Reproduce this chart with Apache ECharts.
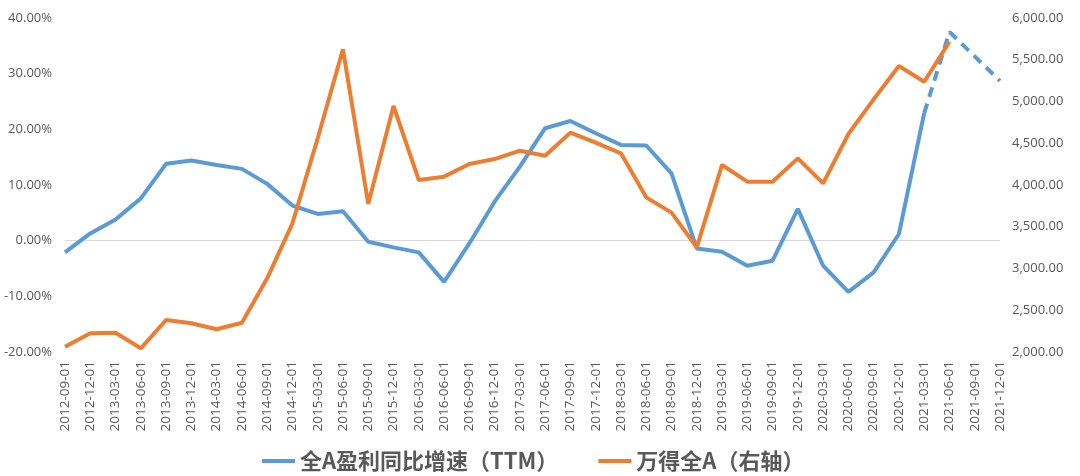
<!DOCTYPE html>
<html>
<head>
<meta charset="utf-8">
<script src="https://cdn.jsdelivr.net/npm/echarts@6/dist/echarts.min.js"></script>
<style>html,body{margin:0;padding:0;background:#fff;}#c{width:1080px;height:476px;}</style>
</head>
<body>
<div id="c"></div>
<script>
const categories = ['2012-09-01','2012-12-01','2013-03-01','2013-06-01','2013-09-01','2013-12-01','2014-03-01','2014-06-01','2014-09-01','2014-12-01','2015-03-01','2015-06-01','2015-09-01','2015-12-01','2016-03-01','2016-06-01','2016-09-01','2016-12-01','2017-03-01','2017-06-01','2017-09-01','2017-12-01','2018-03-01','2018-06-01','2018-09-01','2018-12-01','2019-03-01','2019-06-01','2019-09-01','2019-12-01','2020-03-01','2020-06-01','2020-09-01','2020-12-01','2021-03-01','2021-06-01','2021-09-01','2021-12-01'];
const profitGrowth = [-2.1,1.3,3.8,7.6,13.8,14.4,13.6,12.9,10.2,6.3,4.8,5.3,-0.2,-1.2,-2.1,-7.4,-0.5,7.0,13.3,20.2,21.5,19.3,17.2,17.1,12.1,-1.4,-2.0,-4.5,-3.6,5.7,-4.5,-9.2,-5.7,1.2,22.9,null,null,null];
const profitGrowthForecast = [null,null,null,null,null,null,null,null,null,null,null,null,null,null,null,null,null,null,null,null,null,null,null,null,null,null,null,null,null,null,null,null,null,null,22.9,37.5,33.1,28.7];
const windAIndex = [2064,2224,2231,2044,2383,2344,2272,2351,2882,3540,4560,5625,3772,4946,4060,4100,4252,4311,4411,4351,4627,4507,4379,3852,3669,3254,4240,4040,4040,4319,4020,4611,5026,5425,5237,5716,null,null];
const leftTicks = [-20,-10,0,10,20,30,40];
const rightTicks = [2000,2500,3000,3500,4000,4500,5000,5500,6000];
const seriesNames = ['全A盈利同比增速（TTM）','万得全A（右轴）'];

const BLUE = '#5B9BD5', ORANGE = '#ED7D31', TXT = '#595959';
const chart = echarts.init(document.getElementById('c'), null, {renderer:'canvas'});
chart.setOption({
  animation: false,
  backgroundColor: '#fff',
  textStyle: {fontFamily: '"Noto Sans CJK SC", "Noto Sans", sans-serif'},
  grid: {left: 65, right: 80, top: 18, bottom: 124, containLabel: false},
  legend: {
    data: seriesNames,
    left: 257, top: 445,
    icon: 'rect', itemWidth: 33, itemHeight: 4, itemGap: 40,
    textStyle: {fontSize: 22, color: TXT, fontWeight: 'bold', fontFamily: '"Noto Sans CJK SC", sans-serif'}
  },
  xAxis: {
    type: 'category', data: categories, boundaryGap: false,
    axisLine: {show: false}, axisTick: {show: false},
    axisLabel: {rotate: 90, interval: 0, fontSize: 13.5, color: TXT, margin: 9, fontFamily: '"Open Sans", "DejaVu Sans", sans-serif'},
    splitLine: {show: false}
  },
  yAxis: [{
    type: 'value', min: leftTicks[0], max: leftTicks[leftTicks.length-1], interval: 10,
    axisLine: {show: false}, axisTick: {show: false}, splitLine: {show: false},
    axisLabel: {fontSize: 13, color: TXT, margin: 13, formatter: v => v.toFixed(2) + '%', fontFamily: '"Open Sans", "DejaVu Sans", sans-serif'}
  },{
    type: 'value', min: rightTicks[0], max: rightTicks[rightTicks.length-1], interval: 500, position: 'right',
    axisLine: {show: false}, axisTick: {show: false}, splitLine: {show: false},
    axisLabel: {fontSize: 13, color: TXT, margin: 12, fontFamily: '"Open Sans", "DejaVu Sans", sans-serif',
      formatter: v => v.toLocaleString('en-US', {minimumFractionDigits: 2, maximumFractionDigits: 2})}
  }],
  series: [{
    name: seriesNames[0], type: 'line', yAxisIndex: 0, data: profitGrowth,
    symbol: 'none', lineStyle: {color: BLUE, width: 4}, itemStyle: {color: BLUE},
    markLine: {silent: true, symbol: 'none', label: {show: false},
      lineStyle: {color: '#D9D9D9', width: 1, type: 'solid'}, data: [{yAxis: 0}], z: 1}
  },{
    name: 'forecast', type: 'line', yAxisIndex: 0, data: profitGrowthForecast,
    symbol: 'none', lineStyle: {color: BLUE, width: 4, type: [10, 7]}, itemStyle: {color: BLUE}
  },{
    name: seriesNames[1], type: 'line', yAxisIndex: 1, data: windAIndex,
    symbol: 'none', lineStyle: {color: ORANGE, width: 4}, itemStyle: {color: ORANGE}
  }]
});
</script>
</body>
</html>
